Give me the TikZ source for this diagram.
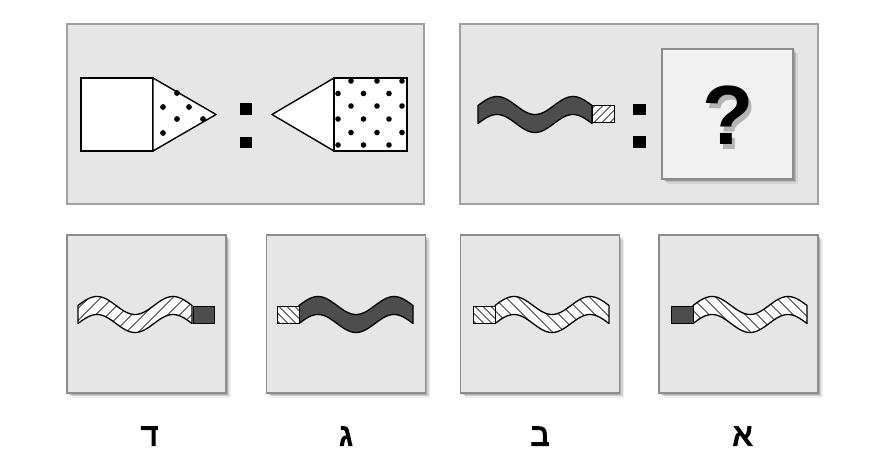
\documentclass[tikz,border=0pt]{standalone}
\usepackage{fontspec}
\setmainfont{Liberation Sans}
\newfontfamily\hebfont[Script=Hebrew, FakeBold=4]{Liberation Sans}
\TeXXeTstate=1
\usetikzlibrary{positioning, shadows}

\definecolor{panelgray}{HTML}{E6E6E6}
\definecolor{bordergray}{HTML}{A0A0A0}
\definecolor{edgegray}{HTML}{8C8C8C}
\definecolor{darkfill}{HTML}{4D4D4D}
\definecolor{qfill}{HTML}{F1F1F1}

\tikzset{
    softshadow/.style={
        drop shadow={shadow xshift=1.5pt, shadow yshift=-1.5pt, opacity=.16, fill=black},
        drop shadow={shadow xshift=3pt, shadow yshift=-3pt, opacity=.12, fill=black},
        drop shadow={shadow xshift=4.5pt, shadow yshift=-4.5pt, opacity=.07, fill=black}}
}

% ribbon outline: #1 = left x, #2 = centre y
\newcommand{\ribbon}[2]{plot[domain=0:114, samples=70] ({#1+\x},{#2-9*sin(\x*4.7368)-9}) -- plot[domain=114:0, samples=70] ({#1+\x},{#2-9*sin(\x*4.7368)+9}) -- cycle}
% hatching lines, / and \
\newcommand{\hatchNE}[3]{\foreach \i in {#3} \draw[hatch] ({#1+\i},{#2+30}) -- ++(60,-60);}
\newcommand{\hatchNW}[3]{\foreach \i in {#3} \draw[hatch] ({#1+\i},{#2-30}) -- ++(60,60);}

\begin{document}
\begin{tikzpicture}[
    x=1pt, y=-1pt,
    frame/.style={rectangle, draw=bordergray, line width=2pt, fill=panelgray, inner sep=0pt},
    option/.style={rectangle, draw=edgegray, line width=1.2pt, fill=panelgray, inner sep=0pt, minimum width=159pt, minimum height=158pt, softshadow},
    qbox/.style={rectangle, draw=edgegray, line width=1.2pt, fill=qfill, inner sep=0pt, minimum width=131pt, minimum height=130pt, softshadow},
    solidpart/.style={draw=black, line width=1.4pt, fill=white},
    ribbonedge/.style={draw=black, line width=1.3pt, line join=round},
    hatch/.style={draw=black!75, line width=0.8pt},
    choice/.style={inner sep=0pt, font=\hebfont\fontsize{31}{33}\selectfont}
]
\useasboundingbox (0,0) rectangle (890,465);
\fill[white] (0,0) rectangle (890,465);

% Top panels
\node (pairL) [frame, minimum width=357pt, minimum height=180pt] at (245.5,114) {};
\node (pairR) [frame, minimum width=358pt, minimum height=180pt] at (639,114) {};

% Left pair: square + triangle
\draw[solidpart] (81,78) rectangle (153,151);
\draw[solidpart] (153,78) -- (216,114.5) -- (153,151) -- cycle;
\foreach \px/\py in {177/93, 163/107, 189/107, 177/119, 203/119, 163/133}
    \fill (\px,\py) circle (2.9);
\fill (240,103) rectangle (252,115);
\fill (240,137) rectangle (252,148);
\draw[solidpart] (334,78) -- (272,114.5) -- (334,151) -- cycle;
\draw[solidpart] (334,78) rectangle (407,151);
\foreach \py in {81,106,132.5}
    \foreach \px in {351,377,402}
        \fill (\px,\py) circle (2.8);
\foreach \py in {93.5,119,145}
    \foreach \px in {338,363.5,389}
        \fill (\px,\py) circle (2.8);

% Right pair: ribbon + question
\draw[ribbonedge, fill=darkfill] \ribbon{478}{114.5};
\fill[white] (592,106) rectangle (614,123);
\begin{scope}
    \clip (592,106) rectangle (614,123);
    \hatchNE{592}{114.5}{-36,-28,...,4}
\end{scope}
\draw[line width=1pt] (592,106) rectangle (614,123);
\fill (633,104) rectangle (646,115);
\fill (633,136) rectangle (646,148);
\node (qbox) [qbox] at (727.5,114) {};
\node (qshade) [text=black, opacity=.25, font=\bfseries\fontsize{84}{86}\selectfont] at (731.5,120) {?};
\node (qmark) [font=\bfseries\fontsize{84}{86}\selectfont] at (728,115.5) {?};

% Answer options
\node (optD) [option] at (146.5,314) {};
\node (optG) [option] at (346,314) {};
\node (optB) [option] at (540,314) {};
\node (optA) [option] at (738.5,314) {};

% option D: hatched ribbon, dark box
\fill[white] \ribbon{78}{314.5};
\begin{scope}
    \clip \ribbon{78}{314.5};
    \hatchNE{78}{314.5}{-60,-48,...,120}
\end{scope}
\draw[ribbonedge] \ribbon{78}{314.5};
\draw[line width=1pt, fill=darkfill] (193,306) rectangle (214,323);

% option G: hatched box, dark ribbon
\draw[ribbonedge, fill=darkfill] \ribbon{299}{314.5};
\fill[white] (277,306) rectangle (299,323);
\begin{scope}
    \clip (277,306) rectangle (299,323);
    \hatchNW{277}{314.5}{-36,-28,...,4}
\end{scope}
\draw[line width=1pt] (277,306) rectangle (299,323);

% option B: hatched box, hatched ribbon
\fill[white] \ribbon{495}{314.5};
\begin{scope}
    \clip \ribbon{495}{314.5};
    \hatchNW{495}{314.5}{-50,-38,...,120}
\end{scope}
\draw[ribbonedge] \ribbon{495}{314.5};
\fill[white] (473,306) rectangle (495,323);
\begin{scope}
    \clip (473,306) rectangle (495,323);
    \hatchNW{473}{314.5}{-36,-28,...,4}
\end{scope}
\draw[line width=1pt] (473,306) rectangle (495,323);

% option A: dark box, hatched ribbon
\fill[white] \ribbon{693}{314.5};
\begin{scope}
    \clip \ribbon{693}{314.5};
    \hatchNW{693}{314.5}{-50,-38,...,120}
\end{scope}
\draw[ribbonedge] \ribbon{693}{314.5};
\draw[line width=1pt, fill=darkfill] (671,306) rectangle (693,323);

% Labels
\node (lblD) [choice, below=33pt of optD, xshift=3pt] {\beginR ד\endR};
\node (lblG) [choice, below=33pt of optG] {\beginR ג\endR};
\node (lblB) [choice, below=33pt of optB] {\beginR ב\endR};
\node (lblA) [choice, below=33pt of optA, xshift=4pt] {\beginR א\endR};

\end{tikzpicture}
\end{document}
